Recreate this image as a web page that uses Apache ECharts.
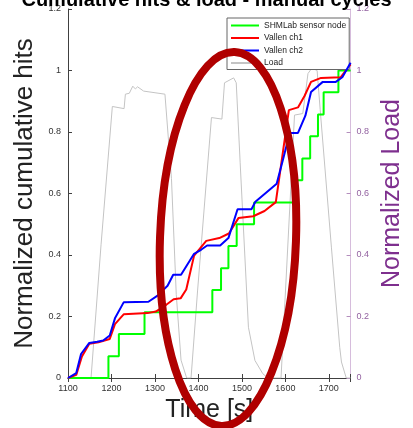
<!DOCTYPE html>
<html lang="en">

<head>
    <meta charset="UTF-8">
    <title>Cumulative hits & load</title>
    <script src="https://cdn.jsdelivr.net/npm/echarts@6/dist/echarts.min.js"></script>
    <style>
        html, body { margin: 0; padding: 0; background: #fff; }
    </style>
</head>

<body>
    <div id="main" style="width: 413px; height: 428px;"></div>
    <script>
        // SHMLab sensor node (stepwise)
        var shmTime = [1100, 1193, 1217, 1276, 1432, 1452, 1469, 1488, 1528, 1618, 1639, 1657, 1675, 1688, 1722, 1750];
        var shmHits = [0, 0.071, 0.143, 0.214, 0.286, 0.357, 0.429, 0.5, 0.571, 0.643, 0.714, 0.786, 0.857, 0.929, 1, 1];

        // Vallen ch1
        var ch1Time = [1100, 1119, 1132, 1149, 1170, 1196, 1208, 1228, 1283, 1302, 1326, 1343, 1359, 1372, 1390, 1418, 1448, 1470, 1492, 1526, 1552, 1578, 1608, 1629, 1644, 1659, 1682, 1727, 1750];
        var ch1Hits = [0, 0.01, 0.07, 0.111, 0.116, 0.127, 0.175, 0.207, 0.211, 0.216, 0.238, 0.256, 0.259, 0.288, 0.398, 0.446, 0.455, 0.47, 0.52, 0.526, 0.543, 0.572, 0.871, 0.88, 0.917, 0.963, 0.976, 0.978, 1.02];

        // Vallen ch2
        var ch2Time = [1100, 1119, 1130, 1149, 1167, 1181, 1196, 1208, 1228, 1285, 1306, 1329, 1342, 1360, 1390, 1406, 1420, 1450, 1469, 1490, 1522, 1531, 1580, 1595, 1610, 1629, 1646, 1659, 1686, 1716, 1731, 1750];
        var ch2Hits = [0, 0.016, 0.078, 0.114, 0.118, 0.122, 0.138, 0.194, 0.246, 0.248, 0.268, 0.3, 0.336, 0.336, 0.404, 0.417, 0.431, 0.431, 0.455, 0.549, 0.549, 0.573, 0.632, 0.713, 0.797, 0.797, 0.853, 0.93, 0.963, 0.963, 0.978, 1.025];

        // normalized load (right axis)
        var loadTime = [1100, 1153, 1176, 1202, 1229, 1232, 1241, 1249, 1255, 1260, 1274, 1323, 1326, 1338, 1349, 1360, 1373, 1383, 1398, 1430, 1454, 1460, 1481, 1487, 1496, 1515, 1530, 1548, 1560, 1590, 1621, 1640, 1652, 1661, 1673, 1680, 1706, 1725, 1729, 1733, 1740, 1750];
        var loadVal = [0, 0, 0.433, 0.883, 0.876, 0.923, 0.926, 0.949, 0.94, 0.947, 0.933, 0.923, 0.92, 0.648, 0.272, 0.058, 0, 0, 0.283, 0.847, 0.842, 0.96, 0.976, 0.96, 0.7, 0.165, 0.057, 0.014, 0, 0, 0.855, 0.86, 0.99, 1.008, 1.0, 0.874, 0.423, 0.1, 0.052, 0.05, 0, 0];

        var xTicks = [1100, 1200, 1300, 1400, 1500, 1600, 1700];

        function pairs(xs, ys) {
            return xs.map(function (x, i) { return [x, ys[i]]; });
        }

        var font = 'Liberation Sans';
        var axisDark = '#404040';
        var purple = '#7e2f8e';

        var myChart = echarts.init(document.getElementById('main'));

        var option = {
            animation: false,
            textStyle: { fontFamily: font },
            title: {
                text: 'Cumulative hits & load - manual cycles',
                left: 'center',
                top: -15,
                textStyle: { fontSize: 20, fontWeight: 'bold', color: '#000', fontFamily: font }
            },
            legend: {
                orient: 'vertical',
                left: 227,
                top: 18,
                icon: 'rect',
                itemWidth: 28,
                itemHeight: 2,
                itemGap: 3.5,
                padding: [3, 3, 2, 4],
                backgroundColor: '#fff',
                borderColor: '#666',
                borderWidth: 1,
                borderRadius: 0,
                data: ['SHMLab sensor node', 'Vallen ch1', 'Vallen ch2', 'Load'],
                textStyle: { fontSize: 8.5, color: '#222', fontFamily: font }
            },
            grid: { left: 68, right: 57, top: 9, bottom: 47 },
            xAxis: [{
                type: 'value',
                min: 1100,
                max: 1750,
                interval: 100,
                name: 'Time [s]',
                nameLocation: 'middle',
                nameGap: 20,
                nameTextStyle: { fontSize: 25, color: '#222' },
                axisLine: { lineStyle: { color: axisDark } },
                axisTick: { inside: true, length: 4, lineStyle: { color: axisDark } },
                axisLabel: {
                    fontSize: 9, color: '#333', margin: 6,
                    formatter: function (v) { return xTicks.indexOf(v) >= 0 ? String(v) : ''; }
                },
                splitLine: { show: false }
            }, {
                type: 'value',
                position: 'top',
                min: 1100,
                max: 1750,
                interval: 100,
                axisLine: { lineStyle: { color: axisDark } },
                axisTick: { inside: true, length: 4, lineStyle: { color: axisDark } },
                axisLabel: { show: false },
                splitLine: { show: false }
            }],
            yAxis: [{
                type: 'value',
                min: 0,
                max: 1.2,
                interval: 0.2,
                name: 'Normalized cumulative hits',
                nameLocation: 'middle',
                nameGap: 11,
                nameTextStyle: { fontSize: 26, color: '#222' },
                axisLine: { show: true, lineStyle: { color: axisDark } },
                axisTick: { show: true, inside: true, length: 4, lineStyle: { color: axisDark } },
                axisLabel: { fontSize: 9, color: '#333', margin: 7 },
                splitLine: { show: false }
            }, {
                type: 'value',
                position: 'right',
                min: 0,
                max: 1.2,
                interval: 0.2,
                name: 'Normalized Load',
                nameLocation: 'middle',
                nameGap: 29,
                nameTextStyle: { fontSize: 25, color: purple },
                axisLine: { show: true, lineStyle: { color: '#d6bcdc' } },
                axisTick: { show: true, inside: true, length: 4, lineStyle: { color: '#b48ebd' } },
                axisLabel: { fontSize: 9, color: '#9261a0', margin: 6 },
                splitLine: { show: false }
            }],
            series: [{
                name: 'Load',
                type: 'line',
                yAxisIndex: 1,
                symbol: 'none',
                z: 1,
                lineStyle: { color: '#c4c4c4', width: 1 },
                itemStyle: { color: '#c4c4c4' },
                data: pairs(loadTime, loadVal)
            }, {
                name: 'SHMLab sensor node',
                type: 'line',
                step: 'end',
                symbol: 'none',
                z: 2,
                lineStyle: { color: '#00ff00', width: 2 },
                itemStyle: { color: '#00ff00' },
                data: pairs(shmTime, shmHits)
            }, {
                name: 'Vallen ch1',
                type: 'line',
                symbol: 'none',
                z: 3,
                lineStyle: { color: '#ff0000', width: 2 },
                itemStyle: { color: '#ff0000' },
                data: pairs(ch1Time, ch1Hits)
            }, {
                name: 'Vallen ch2',
                type: 'line',
                symbol: 'none',
                z: 4,
                lineStyle: { color: '#0000ff', width: 2 },
                itemStyle: { color: '#0000ff' },
                data: pairs(ch2Time, ch2Hits)
            }],
            graphic: [{
                type: 'ellipse',
                x: 228,
                y: 239,
                rotation: -0.035,
                z: 100,
                shape: { cx: 0, cy: 0, rx: 68, ry: 187 },
                style: { fill: 'none', stroke: '#b00000', lineWidth: 8 }
            }]
        };

        myChart.setOption(option);
    </script>
</body>

</html>
